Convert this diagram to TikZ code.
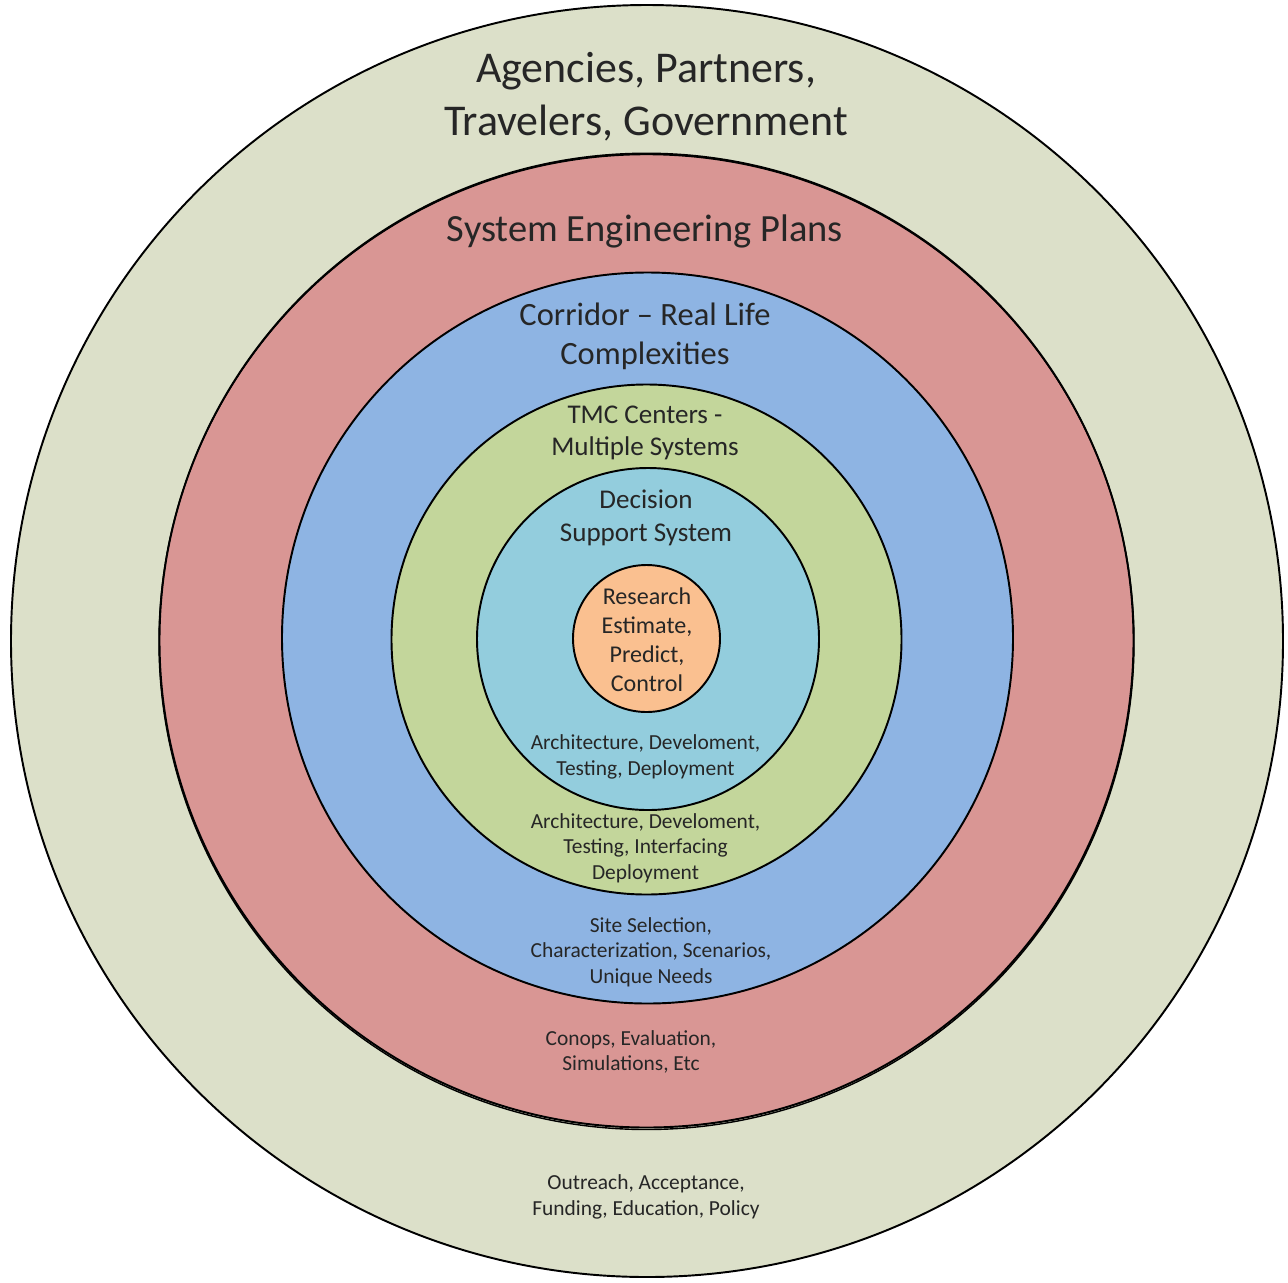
\documentclass[tikz,border=0pt]{standalone}
\usepackage{fontspec}
\usepackage{xcolor}
\usepackage{tikz}
\setmainfont{Carlito}
\definecolor{outreach}{HTML}{DCE0C9}
\definecolor{engplans}{HTML}{D99694}
\definecolor{corridor}{HTML}{8EB4E3}
\definecolor{tmcring}{HTML}{C3D69B}
\definecolor{dssring}{HTML}{93CDDD}
\definecolor{corecore}{HTML}{FAC090}
\definecolor{labelink}{HTML}{262626}

\tikzset{
  ring/.style={draw=black, line width=1.1pt},
  ringlabel/.style={align=center, text=labelink, inner sep=0pt},
}
\newcommand{\txtsize}[1]{\fontsize{#1pt}{\fpeval{1.2*#1}pt}\selectfont}

\begin{document}
\begin{tikzpicture}[x=0.02cm, y=-0.02cm]
\useasboundingbox (0,0) rectangle (1288,1282);
% rings, outside in
\foreach \shade/\cx/\cy/\radius in {
    outreach/647/641/636,
    engplans/646.5/640.5/487,
    corridor/647.5/638/365.5,
    tmcring/646.5/639.5/255,
    dssring/648/639/171,
    corecore/646.5/638.5/73.5}{
  \filldraw[ring, fill=\shade] (\cx,\cy) circle[radius=\radius];
}
% second outline on the plans ring
\draw[ring, line width=0.8pt] (646.5,642) circle[radius=487.5];

% headings of each ring
\node[ringlabel, font=\txtsize{25}] (agencies) at (646,97) {Agencies, Partners,\\Travelers, Government};
\node[ringlabel, font=\txtsize{21.9}] (plans) at (645,231) {System Engineering Plans};
\node[ringlabel, font=\txtsize{18.5}] (corr) at (645,336) {Corridor \textendash{} Real Life\\Complexities};
\node[ringlabel, font=\txtsize{15.4}] (tmc) at (645,433) {TMC Centers -\\Multiple Systems};
\node[ringlabel, font=\txtsize{15.4}] (dss) at (646,518) {Decision\\Support System};
\node[ringlabel, font=\txtsize{13.7}] (core) at (647,640) {Research\\Estimate,\\Predict,\\Control};

% activities under each heading
\node[ringlabel, font=\txtsize{12.2}] (dssact) at (645.5,757) {Architecture, Develoment,\\Testing, Deployment};
\node[ringlabel, font=\txtsize{12.2}] (tmcact) at (645.5,848) {Architecture, Develoment,\\Testing, Interfacing\\Deployment};
\node[ringlabel, font=\txtsize{12.2}] (corract) at (651,952) {Site Selection,\\Characterization, Scenarios,\\Unique Needs};
\node[ringlabel, font=\txtsize{12.2}] (plansact) at (631,1052) {Conops, Evaluation,\\Simulations, Etc};
\node[ringlabel, font=\txtsize{12.2}] (agencyact) at (646,1197) {Outreach, Acceptance,\\Funding, Education, Policy};
\end{tikzpicture}
\end{document}
